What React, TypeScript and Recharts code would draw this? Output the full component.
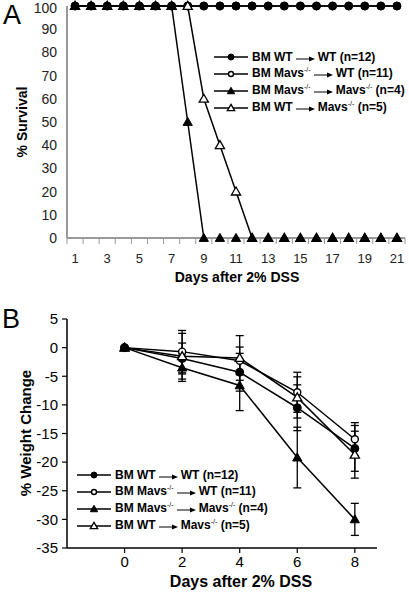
import React from 'react';
import { LineChart, Line, XAxis, YAxis, ErrorBar } from 'recharts';

// Panel A: survival per day
const survivalDays = [1, 2, 3, 4, 5, 6, 7, 8, 9, 10, 11, 12, 13, 14, 15, 16, 17, 18, 19, 20, 21];
const survWtToWt = [100, 100, 100, 100, 100, 100, 100, 100, 100, 100, 100, 100, 100, 100, 100, 100, 100, 100, 100, 100, 100];
const survMavsToWt = [100, 100, 100, 100, 100, 100, 100, 100, 100, 100, 100, 100, 100, 100, 100, 100, 100, 100, 100, 100, 100];
const survMavsToMavs = [100, 100, 100, 100, 100, 100, 100, 50, 0, 0, 0, 0, 0, 0, 0, 0, 0, 0, 0, 0, 0];
const survWtToMavs = [100, 100, 100, 100, 100, 100, 100, 100, 60, 40, 20, 0, 0, 0, 0, 0, 0, 0, 0, 0, 0];
const survivalYTicks = [0, 10, 20, 30, 40, 50, 60, 70, 80, 90, 100];

// Panel B: weight change (mean, sem)
const weightDays = [0, 2, 4, 6, 8];
const wtWtMean = [0, -1.9, -4.3, -10.5, -17.6];
const wtWtErr = [0, 2.7, 3.3, 4.0, 4.0];
const mavsWtMean = [0, -0.7, -2.3, -7.8, -16.0];
const mavsWtErr = [0, 3.7, 2.4, 3.5, 2.9];
const mavsMavsMean = [0, -3.5, -6.6, -19.2, -30.0];
const mavsMavsErr = [0, 2.4, 4.4, 5.3, 2.8];
const wtMavsMean = [0, -1.5, -1.8, -8.7, -18.7];
const wtMavsErr = [0, 4.0, 3.9, 3.6, 4.1];
const weightXTicks = [0, 2, 4, 6, 8];
const weightYTicks = [-35, -30, -25, -20, -15, -10, -5, 0, 5];

// legend entries: [donor, recipient, n, marker]
const legendEntries: [string, string, number, string][] = [
  ['WT', 'WT', 12, 'filledCircle'],
  ['Mavs', 'WT', 11, 'openCircle'],
  ['Mavs', 'Mavs', 4, 'filledTriangle'],
  ['WT', 'Mavs', 5, 'openTriangle'],
];

const survivalRows = survivalDays.map((d, i) => ({
  day: d,
  wtWt: survWtToWt[i],
  mavsWt: survMavsToWt[i],
  mavsMavs: survMavsToMavs[i],
  wtMavs: survWtToMavs[i],
}));

const weightRows = weightDays.map((d, i) => ({
  day: d,
  wtWt: wtWtMean[i], wtWtErr: wtWtErr[i],
  mavsWt: mavsWtMean[i], mavsWtErr: mavsWtErr[i],
  mavsMavs: mavsMavsMean[i], mavsMavsErr: mavsMavsErr[i],
  wtMavs: wtMavsMean[i], wtMavsErr: wtMavsErr[i],
}));

const FONT = 'Arial, "Liberation Sans", Helvetica, sans-serif';

function Marker({ kind, cx, cy, r }: { kind: string; cx: number; cy: number; r: number }) {
  if (cx == null || cy == null) return null;
  if (kind === 'filledCircle') return <circle cx={cx} cy={cy} r={r} fill="#000" stroke="#000" strokeWidth={1} />;
  if (kind === 'openCircle') return <circle cx={cx} cy={cy} r={r - 0.5} fill="#fff" stroke="#000" strokeWidth={1.4} />;
  const pts = `${cx},${cy - r * 1.15} ${cx - r * 1.15},${cy + r * 0.85} ${cx + r * 1.15},${cy + r * 0.85}`;
  if (kind === 'filledTriangle') return <polygon points={pts} fill="#000" stroke="#000" strokeWidth={1} />;
  return <polygon points={pts} fill="#fff" stroke="#000" strokeWidth={1.3} />;
}

const dotFor = (kind: string, r: number) => (p: any) => (
  <Marker key={`${kind}-${p.index}`} kind={kind} cx={p.cx} cy={p.cy} r={r} />
);

const Arrow = () => (
  <svg width={19} height={8} style={{ margin: '0 3px', verticalAlign: 'middle' }}>
    <line x1={0} y1={5} x2={14} y2={5} stroke="#000" strokeWidth={1} />
    <polygon points="19,5 13,2.5 13,7.5" fill="#000" />
  </svg>
);

const Geno = ({ name }: { name: string }) =>
  name === 'Mavs' ? (
    <span>Mavs<span style={{ fontSize: 7, position: 'relative', top: -5, fontWeight: 'normal' }}>-/-</span></span>
  ) : (
    <span>{name}</span>
  );

function LegendBox({ left, top }: { left: number; top: number }) {
  return (
    <div style={{ position: 'absolute', left, top, fontFamily: FONT }}>
      {legendEntries.map(([from, to, n, kind]) => (
        <div key={kind} style={{ display: 'flex', alignItems: 'center', height: 16.8 }}>
          <svg width={34} height={12}>
            <line x1={0} y1={6} x2={34} y2={6} stroke="#000" strokeWidth={1.5} />
            <Marker kind={kind} cx={17} cy={6} r={kind.includes('Circle') ? 3 : 3.2} />
          </svg>
          <span style={{ marginLeft: 4, fontWeight: 'bold', fontSize: 12, whiteSpace: 'nowrap', lineHeight: '12px' }}>
            BM <Geno name={from} />
            <Arrow />
            <Geno name={to} /> (n={n})
          </span>
        </div>
      ))}
    </div>
  );
}

const HALF_STEP = 8.05;
const SurvivalXTick = (props: any) => {
  const { x, y, payload } = props;
  const v = payload.value;
  return (
    <g>
      <line x1={x - HALF_STEP} x2={x - HALF_STEP} y1={y} y2={y + 6} stroke="#999" strokeWidth={1} />
      {v === 21 && <line x1={x + HALF_STEP} x2={x + HALF_STEP} y1={y} y2={y + 6} stroke="#999" strokeWidth={1} />}
      {v % 2 === 1 && (
        <text x={x} y={y + 24.5} textAnchor="middle" fontSize={13} fill="#222" fontFamily={FONT}>
          {v}
        </text>
      )}
    </g>
  );
};

const absText = (style: React.CSSProperties, text: string) => (
  <div style={{ position: 'absolute', fontFamily: FONT, whiteSpace: 'nowrap', ...style }}>{text}</div>
);

// draw order: later series on top
const series = [
  { key: 'mavsWt', kind: 'openCircle' },
  { key: 'wtWt', kind: 'filledCircle' },
  { key: 'wtMavs', kind: 'openTriangle' },
  { key: 'mavsMavs', kind: 'filledTriangle' },
];

export default function App() {
  return (
    <div style={{ position: 'absolute', left: 0, top: 0, width: 409, height: 592, background: '#fff', overflow: 'hidden' }}>
      {/* Panel A */}
      <div style={{ position: 'absolute', left: 0, top: 0 }}>
        <LineChart width={409} height={290} data={survivalRows} margin={{ top: 6, right: 4, bottom: 0, left: 0 }}>
          <XAxis
            dataKey="day"
            type="number"
            domain={[0.5, 21.5]}
            ticks={survivalDays}
            interval={0}
            height={52}
            tickLine={false}
            tickSize={0}
            tickMargin={0}
            axisLine={{ stroke: '#999', strokeWidth: 2 }}
            tick={<SurvivalXTick />}
          />
          <YAxis
            type="number"
            domain={[0, 100]}
            ticks={survivalYTicks}
            width={67}
            tickLine={false}
            tickSize={0}
            tickMargin={10}
            axisLine={{ stroke: '#999', strokeWidth: 2 }}
            tick={{ fontSize: 14, fill: '#222', fontFamily: FONT }}
          />
          {series.map((s) => (
            <Line
              key={s.key}
              dataKey={s.key}
              type="linear"
              stroke="#000"
              strokeWidth={1.5}
              isAnimationActive={false}
              dot={dotFor(s.kind, 4)}
              activeDot={false}
            />
          ))}
        </LineChart>
      </div>
      {absText({ left: 3, top: 0, fontSize: 27, lineHeight: '30px' }, 'A')}
      {absText({ left: 22, top: 122, fontSize: 14, fontWeight: 'bold', transform: 'translate(-50%, -50%) rotate(-90deg)' }, '% Survival')}
      {absText({ left: 237, top: 277, fontSize: 14, fontWeight: 'bold', transform: 'translate(-50%, -50%)' }, 'Days after 2% DSS')}
      <LegendBox left={214} top={49} />

      {/* Panel B */}
      <div style={{ position: 'absolute', left: 0, top: 290 }}>
        <LineChart width={409} height={302} data={weightRows} margin={{ top: 29, right: 32, bottom: 0, left: 0 }}>
          <XAxis
            dataKey="day"
            type="number"
            domain={[-2, 8.77]}
            ticks={weightXTicks}
            interval={0}
            height={44}
            tickSize={5}
            tickMargin={3}
            axisLine={{ stroke: '#000', strokeWidth: 1.5 }}
            tickLine={{ stroke: '#000', strokeWidth: 1.2 }}
            tick={{ fontSize: 15, fill: '#000', fontFamily: FONT }}
          />
          <YAxis
            type="number"
            domain={[-35, 5]}
            ticks={weightYTicks}
            width={67}
            tickSize={5}
            tickMargin={4}
            axisLine={{ stroke: '#000', strokeWidth: 1.5 }}
            tickLine={{ stroke: '#000', strokeWidth: 1.2 }}
            tick={{ fontSize: 15, fill: '#000', fontFamily: FONT }}
          />
          {series.map((s) => (
            <Line
              key={s.key}
              dataKey={s.key}
              type="linear"
              stroke="#000"
              strokeWidth={1.5}
              isAnimationActive={false}
              dot={dotFor(s.kind, 4)}
              activeDot={false}
            >
              <ErrorBar dataKey={`${s.key}Err`} direction="y" width={4} stroke="#000" strokeWidth={1.3} isAnimationActive={false} />
            </Line>
          ))}
        </LineChart>
      </div>
      {absText({ left: 2, top: 304, fontSize: 27, lineHeight: '30px' }, 'B')}
      {absText({ left: 25, top: 433, fontSize: 15, fontWeight: 'bold', transform: 'translate(-50%, -50%) rotate(-90deg)' }, '% Weight Change')}
      {absText({ left: 241, top: 582, fontSize: 16, fontWeight: 'bold', transform: 'translate(-50%, -50%)' }, 'Days after 2% DSS')}
      <LegendBox left={77} top={467} />
    </div>
  );
}
